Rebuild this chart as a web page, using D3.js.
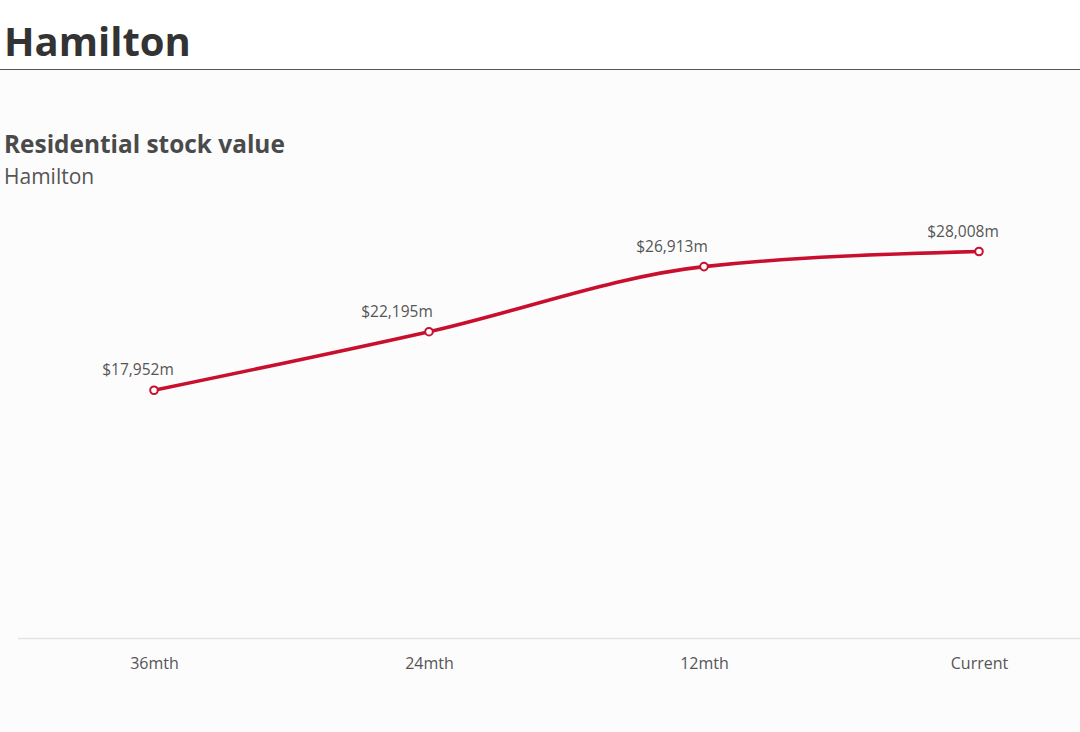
<!DOCTYPE html>
<html>
<head>
<meta charset="utf-8">
<script src="https://cdn.jsdelivr.net/npm/d3@7"></script>
<style>
  html, body { margin: 0; padding: 0; background: #ffffff; }
  svg { display: block; }
</style>
</head>
<body>
<svg id="chart" width="1080" height="732"></svg>
<script>
const pageTitle = "Hamilton";
const chartTitle = "Residential stock value";
const chartSubtitle = "Hamilton";
const categories = ["36mth", "24mth", "12mth", "Current"];
const values = [17952, 22195, 26913, 28008];
const labelFormat = v => "$" + d3.format(",")(v) + "m";

const W = 1080, H = 732;
const svg = d3.select("#chart");
const font = "'Segoe UI', 'Open Sans', 'Noto Sans', sans-serif";

svg.append("rect").attr("x", 0).attr("y", 70).attr("width", W).attr("height", H - 70).attr("fill", "#fdfcfd");

svg.append("text").attr("x", 4).attr("y", 56)
  .attr("font-family", font).attr("font-weight", 700).attr("font-size", 40)
  .attr("fill", "#333333").text(pageTitle);
svg.append("line").attr("x1", 0).attr("x2", W).attr("y1", 69.5).attr("y2", 69.5)
  .attr("stroke", "#555555").attr("stroke-width", 1);

svg.append("text").attr("x", 4).attr("y", 153)
  .attr("font-family", font).attr("font-weight", 700).attr("font-size", 24.4)
  .attr("fill", "#4a4a4a").text(chartTitle);
svg.append("text").attr("x", 4).attr("y", 184)
  .attr("font-family", font).attr("font-size", 21)
  .attr("fill", "#555555").text(chartSubtitle);

const x = d3.scalePoint().domain(categories).range([16.5, 1116.5]).padding(0.5);
const y = d3.scaleLinear().domain([0, d3.max(values)]).range([638, 251.5]);

// x axis
const xAxis = svg.append("g").attr("transform", "translate(0,638)")
  .call(d3.axisBottom(x).tickSize(0).tickPadding(20));
xAxis.select(".domain").remove();
svg.insert("line", "g").attr("x1", 18).attr("x2", W).attr("y1", 638.5).attr("y2", 638.5)
  .attr("stroke", "#e3e3e3").attr("stroke-width", 1.5);
xAxis.selectAll("text").attr("font-family", font).attr("font-size", 16).attr("fill", "#555555");

const data = categories.map((c, i) => ({ c, v: values[i], i }));
const line = d3.line().x(d => x(d.c)).y(d => y(d.v)).curve(d3.curveMonotoneX);

svg.append("path").datum(data).attr("d", line)
  .attr("fill", "none").attr("stroke", "#c8102e").attr("stroke-width", 3.6)
  .attr("stroke-linejoin", "round");

svg.selectAll("circle.pt").data(data).enter().append("circle")
  .attr("class", "pt")
  .attr("cx", d => x(d.c)).attr("cy", d => y(d.v)).attr("r", 3.8)
  .attr("fill", "#ffffff").attr("stroke", "#c8102e").attr("stroke-width", 2);

svg.selectAll("text.lbl").data(data).enter().append("text")
  .attr("class", "lbl")
  .attr("x", d => x(d.c) + ((d.i === 0 || d.i === data.length - 1) ? -16 : -32))
  .attr("y", d => y(d.v) - 15)
  .attr("text-anchor", "middle")
  .attr("font-family", font).attr("font-size", 15.5).attr("fill", "#555555")
  .text(d => labelFormat(d.v));
</script>
</body>
</html>
